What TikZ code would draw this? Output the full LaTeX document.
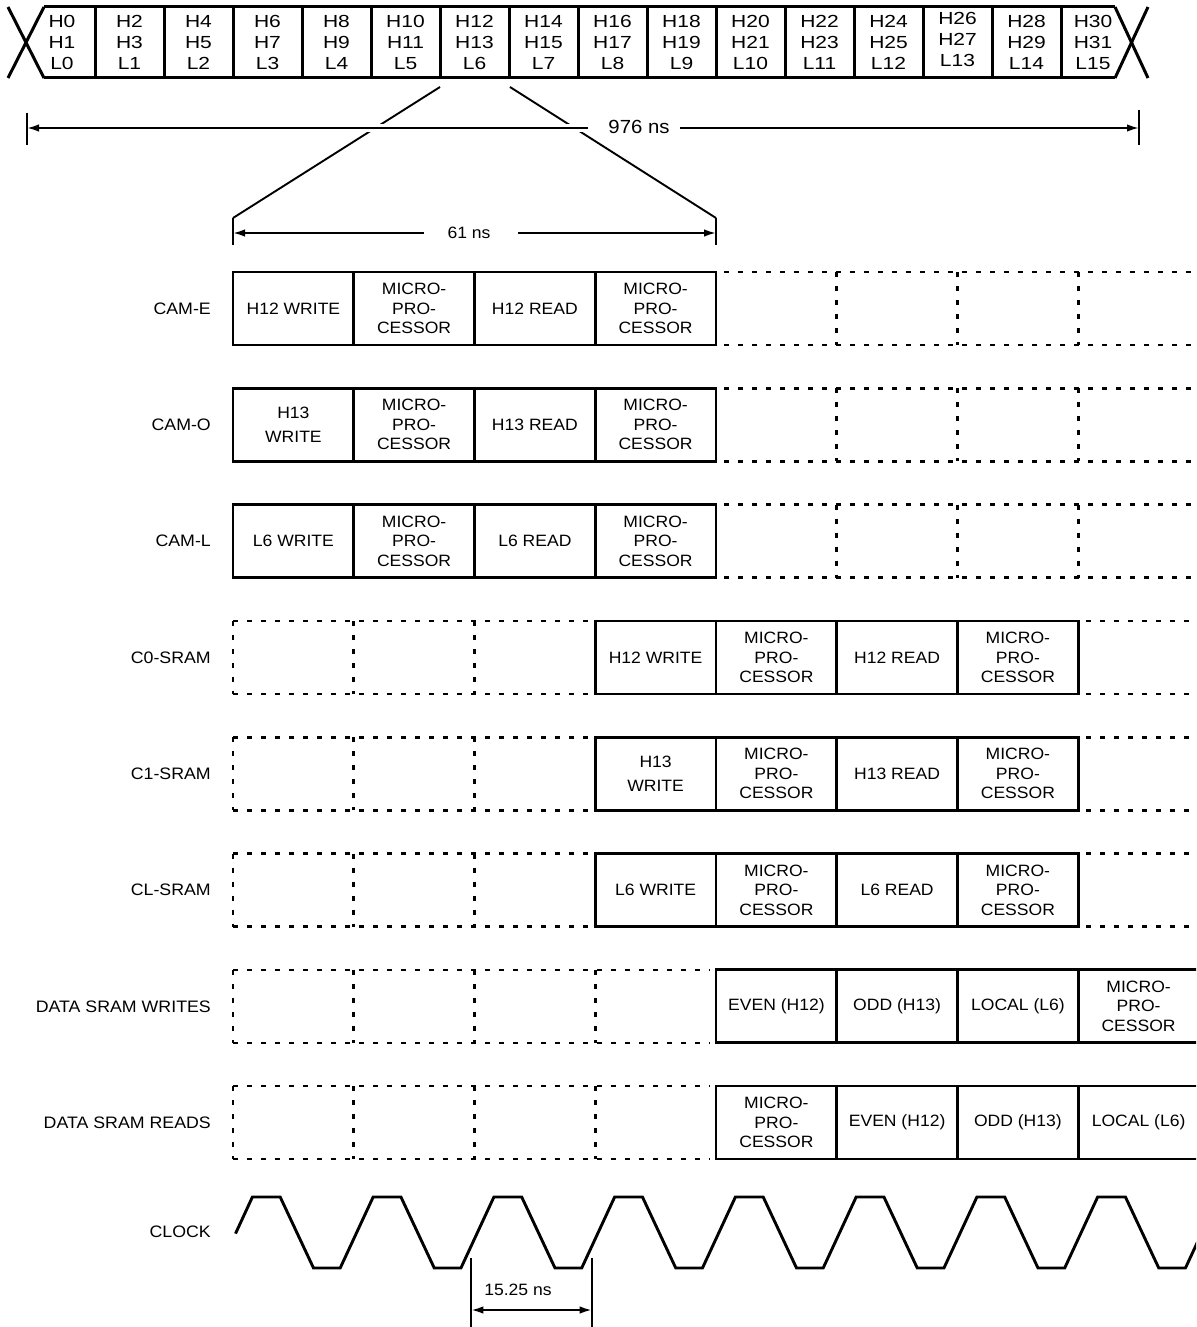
\documentclass[tikz,border=0pt]{standalone}
\usepackage{fontspec}
\setmainfont{Liberation Sans}[FakeStretch=1.07]
\newfontfamily\barfont{Liberation Sans}[FakeStretch=1.2]
\usetikzlibrary{arrows.meta}
\tikzset{
  boxline/.style={line width=2.7pt},
  dotline/.style={line width=2.6pt, dash pattern=on 5pt off 9pt},
  barline/.style={line width=3pt},
  dimline/.style={line width=1.9pt},
  dimarrow/.style={line width=1.9pt, -{Latex[length=12pt,width=7.5pt]}},
  clockline/.style={line width=2.9pt},
  lbl/.style={font=\fontsize{16.6}{19}\selectfont, anchor=east, inner sep=0pt},
  cell/.style={font=\fontsize{16.4}{19.5}\selectfont, align=center, inner sep=0pt},
  dimtext/.style={font=\fontsize{16.4}{19}\selectfont, inner sep=0pt},
  barcell/.style={font=\barfont\fontsize{17.5}{21}\selectfont, align=center, inner sep=0pt},
}
\newcommand{\mpc}{MICRO-\\PRO-\\CESSOR}
\begin{document}
\begin{tikzpicture}[x=1pt,y=-1pt]
\useasboundingbox (0,0) rectangle (1196,1327);
\clip (0,0) rectangle (1196,1327);

% ---------- top bar ----------
\draw[barline] (44,7) -- (1115,7);
\draw[barline] (44,78) -- (1115,78);
\draw[barline] (8,7) -- (44,78);
\draw[barline] (44,7) -- (8,78);
\draw[barline] (1115,7) -- (1148,78);
\draw[barline] (1148,7) -- (1115,78);
\foreach \i in {0,...,14} \draw[barline] ({95+69*\i},7) -- ({95+69*\i},78);
\node[barcell] (b0) at (62,42) {H0\\H1\\L0};
\foreach \i [evaluate=\i as \a using int(2*\i), evaluate=\i as \b using int(2*\i+1)] in {1,...,12,14}
  \node[barcell] (b\i) at ({129.5+69*(\i-1)},42) {H\a\\H\b\\L\i};
\node[barcell] (b13) at ({129.5+69*12},39) {H26\\H27\\L13};
\node[barcell] (b15) at (1093,42) {H30\\H31\\L15};

% ---------- zoom lines ----------
\coordinate (zl1) at (440,87);
\coordinate (zl2) at (233,218);
\coordinate (zr1) at (510,87);
\coordinate (zr2) at (716,218);
\draw[dimline] (zl1) -- (zl2);
\draw[dimline] (zr1) -- (zr2);
\draw[white, line width=8pt] (355,128) -- (596,128);

% ---------- 976 ns ----------
\coordinate (t976a) at (27,113);
\coordinate (t976b) at (27,145);
\coordinate (t976c) at (1139,110);
\coordinate (t976d) at (1139,145);
\coordinate (t976l) at (27,128);
\coordinate (t976r) at (1139,128);
\coordinate (g976l) at (588,128);
\coordinate (g976r) at (680,128);
\draw[dimline] (t976a) -- (t976b);
\draw[dimline] (t976c) -- (t976d);
\node[dimtext, font=\fontsize{19}{22}\selectfont] (n976) at (639,127) {976 ns};
\draw[dimarrow] (g976l) -- (t976l);
\draw[dimarrow] (g976r) -- (t976r);

% ---------- 61 ns ----------
\coordinate (t61a) at (233,218);
\coordinate (t61b) at (233,245);
\coordinate (t61c) at (716,218);
\coordinate (t61d) at (716,245);
\coordinate (t61l) at (233,233);
\coordinate (t61r) at (716,233);
\coordinate (g61l) at (424,233);
\coordinate (g61r) at (518,233);
\draw[dimline] (t61a) -- (t61b);
\draw[dimline] (t61c) -- (t61d);
\node[dimtext] (n61) at (469,233) {61 ns};
\draw[dimarrow] (g61l) -- (t61l);
\draw[dimarrow] (g61r) -- (t61r);

% ---------- rows ----------
% CAM rows: solid cols 0-3, dotted cols 4-7
\foreach \T in {272,388.3,504.6} {
  \draw[boxline] (233,\T) rectangle (716,\T+73);
  \foreach \i in {1,2,3} \draw[boxline] ({233+120.75*\i},\T) -- ({233+120.75*\i},\T+73);
  \draw[dotline] (724,\T) -- (1200,\T);
  \draw[dotline] (724,\T+73) -- (1200,\T+73);
  \foreach \i in {5,6,7} \draw[dotline] ({233+120.75*\i},\T) -- ({233+120.75*\i},\T+73);
}
% SRAM rows: dotted cols 0-2, solid cols 3-6, dotted col 7
\foreach \T in {620.9,737.2,853.5} {
  \draw[dotline] (233,\T) -- (590,\T);
  \draw[dotline] (233,\T+73) -- (590,\T+73);
  \foreach \i in {0,1,2} \draw[dotline] ({233+120.75*\i},\T) -- ({233+120.75*\i},\T+73);
  \draw[boxline] (595.25,\T) rectangle (1078.25,\T+73);
  \foreach \i in {4,5,6} \draw[boxline] ({233+120.75*\i},\T) -- ({233+120.75*\i},\T+73);
  \draw[dotline] (1086,\T) -- (1200,\T);
  \draw[dotline] (1086,\T+73) -- (1200,\T+73);
}
% DATA rows: dotted cols 0-3, solid cols 4-7
\foreach \T in {969.8,1086.1} {
  \draw[dotline] (233,\T) -- (710,\T);
  \draw[dotline] (233,\T+73) -- (710,\T+73);
  \foreach \i in {0,1,2,3} \draw[dotline] ({233+120.75*\i},\T) -- ({233+120.75*\i},\T+73);
  \draw[boxline] (1205,\T) -- (716,\T) -- (716,\T+73) -- (1205,\T+73);
  \foreach \i in {5,6,7} \draw[boxline] ({233+120.75*\i},\T) -- ({233+120.75*\i},\T+73);
}

% ---------- row labels ----------
\node[lbl] (lcame) at (211,308.5) {CAM-E};
\node[lbl] (lcamo) at (211,424.8) {CAM-O};
\node[lbl] (lcaml) at (211,541.1) {CAM-L};
\node[lbl] (lc0) at (211,657.4) {C0-SRAM};
\node[lbl] (lc1) at (211,773.7) {C1-SRAM};
\node[lbl] (lcl) at (211,890) {CL-SRAM};
\node[lbl] (ldw) at (211,1006.3) {DATA SRAM WRITES};
\node[lbl] (ldr) at (211,1122.6) {DATA SRAM READS};
\node[lbl] (lclk) at (211,1232) {CLOCK};

% ---------- cell texts ----------
% CAM-E
\node[cell] (e0) at (293.4,308.5) {H12 WRITE};
\node[cell] (e1) at (414.1,308.5) {\mpc};
\node[cell] (e2) at (534.9,308.5) {H12 READ};
\node[cell] (e3) at (655.6,308.5) {\mpc};
% CAM-O
\node[cell, font=\fontsize{16.4}{24}\selectfont] (o0) at (293.4,424.8) {H13\\WRITE};
\node[cell] (o1) at (414.1,424.8) {\mpc};
\node[cell] (o2) at (534.9,424.8) {H13 READ};
\node[cell] (o3) at (655.6,424.8) {\mpc};
% CAM-L
\node[cell] (l0) at (293.4,541.1) {L6 WRITE};
\node[cell] (l1) at (414.1,541.1) {\mpc};
\node[cell] (l2) at (534.9,541.1) {L6 READ};
\node[cell] (l3) at (655.6,541.1) {\mpc};
% C0-SRAM
\node[cell] (s00) at (655.6,657.4) {H12 WRITE};
\node[cell] (s01) at (776.4,657.4) {\mpc};
\node[cell] (s02) at (897.1,657.4) {H12 READ};
\node[cell] (s03) at (1017.9,657.4) {\mpc};
% C1-SRAM
\node[cell, font=\fontsize{16.4}{24}\selectfont] (s10) at (655.6,773.7) {H13\\WRITE};
\node[cell] (s11) at (776.4,773.7) {\mpc};
\node[cell] (s12) at (897.1,773.7) {H13 READ};
\node[cell] (s13) at (1017.9,773.7) {\mpc};
% CL-SRAM
\node[cell] (sl0) at (655.6,890) {L6 WRITE};
\node[cell] (sl1) at (776.4,890) {\mpc};
\node[cell] (sl2) at (897.1,890) {L6 READ};
\node[cell] (sl3) at (1017.9,890) {\mpc};
% DATA SRAM WRITES
\node[cell] (w0) at (776.4,1006.3) {EVEN (H12)};
\node[cell] (w1) at (897.1,1006.3) {ODD (H13)};
\node[cell] (w2) at (1017.9,1006.3) {LOCAL (L6)};
\node[cell] (w3) at (1138.6,1006.3) {\mpc};
% DATA SRAM READS
\node[cell] (r0) at (776.4,1122.6) {\mpc};
\node[cell] (r1) at (897.1,1122.6) {EVEN (H12)};
\node[cell] (r2) at (1017.9,1122.6) {ODD (H13)};
\node[cell] (r3) at (1138.6,1122.6) {LOCAL (L6)};

% ---------- clock ----------
\draw[clockline, line join=miter] (235.5,1233.6)
  \foreach \k in {0,...,7} {
    -- ({252.4+120.75*\k},1197) -- ({280.2+120.75*\k},1197)
    -- ({313.5+120.75*\k},1268) -- ({340.2+120.75*\k},1268)
  } -- (1218.4,1197);

% ---------- 15.25 ns ----------
\coordinate (c1a) at (471.3,1258);
\coordinate (c1b) at (471.3,1330);
\coordinate (c2a) at (591.7,1258);
\coordinate (c2b) at (591.7,1330);
\coordinate (c1m) at (471.3,1310);
\coordinate (c2m) at (591.7,1310);
\draw[dimline] (c1a) -- (c1b);
\draw[dimline] (c2a) -- (c2b);
\draw[dimline, {Latex[length=12pt,width=7.5pt]}-{Latex[length=12pt,width=7.5pt]}] (c1m) -- (c2m);
\node[dimtext] (n1525) at (518,1290) {15.25 ns};
\end{tikzpicture}
\end{document}
